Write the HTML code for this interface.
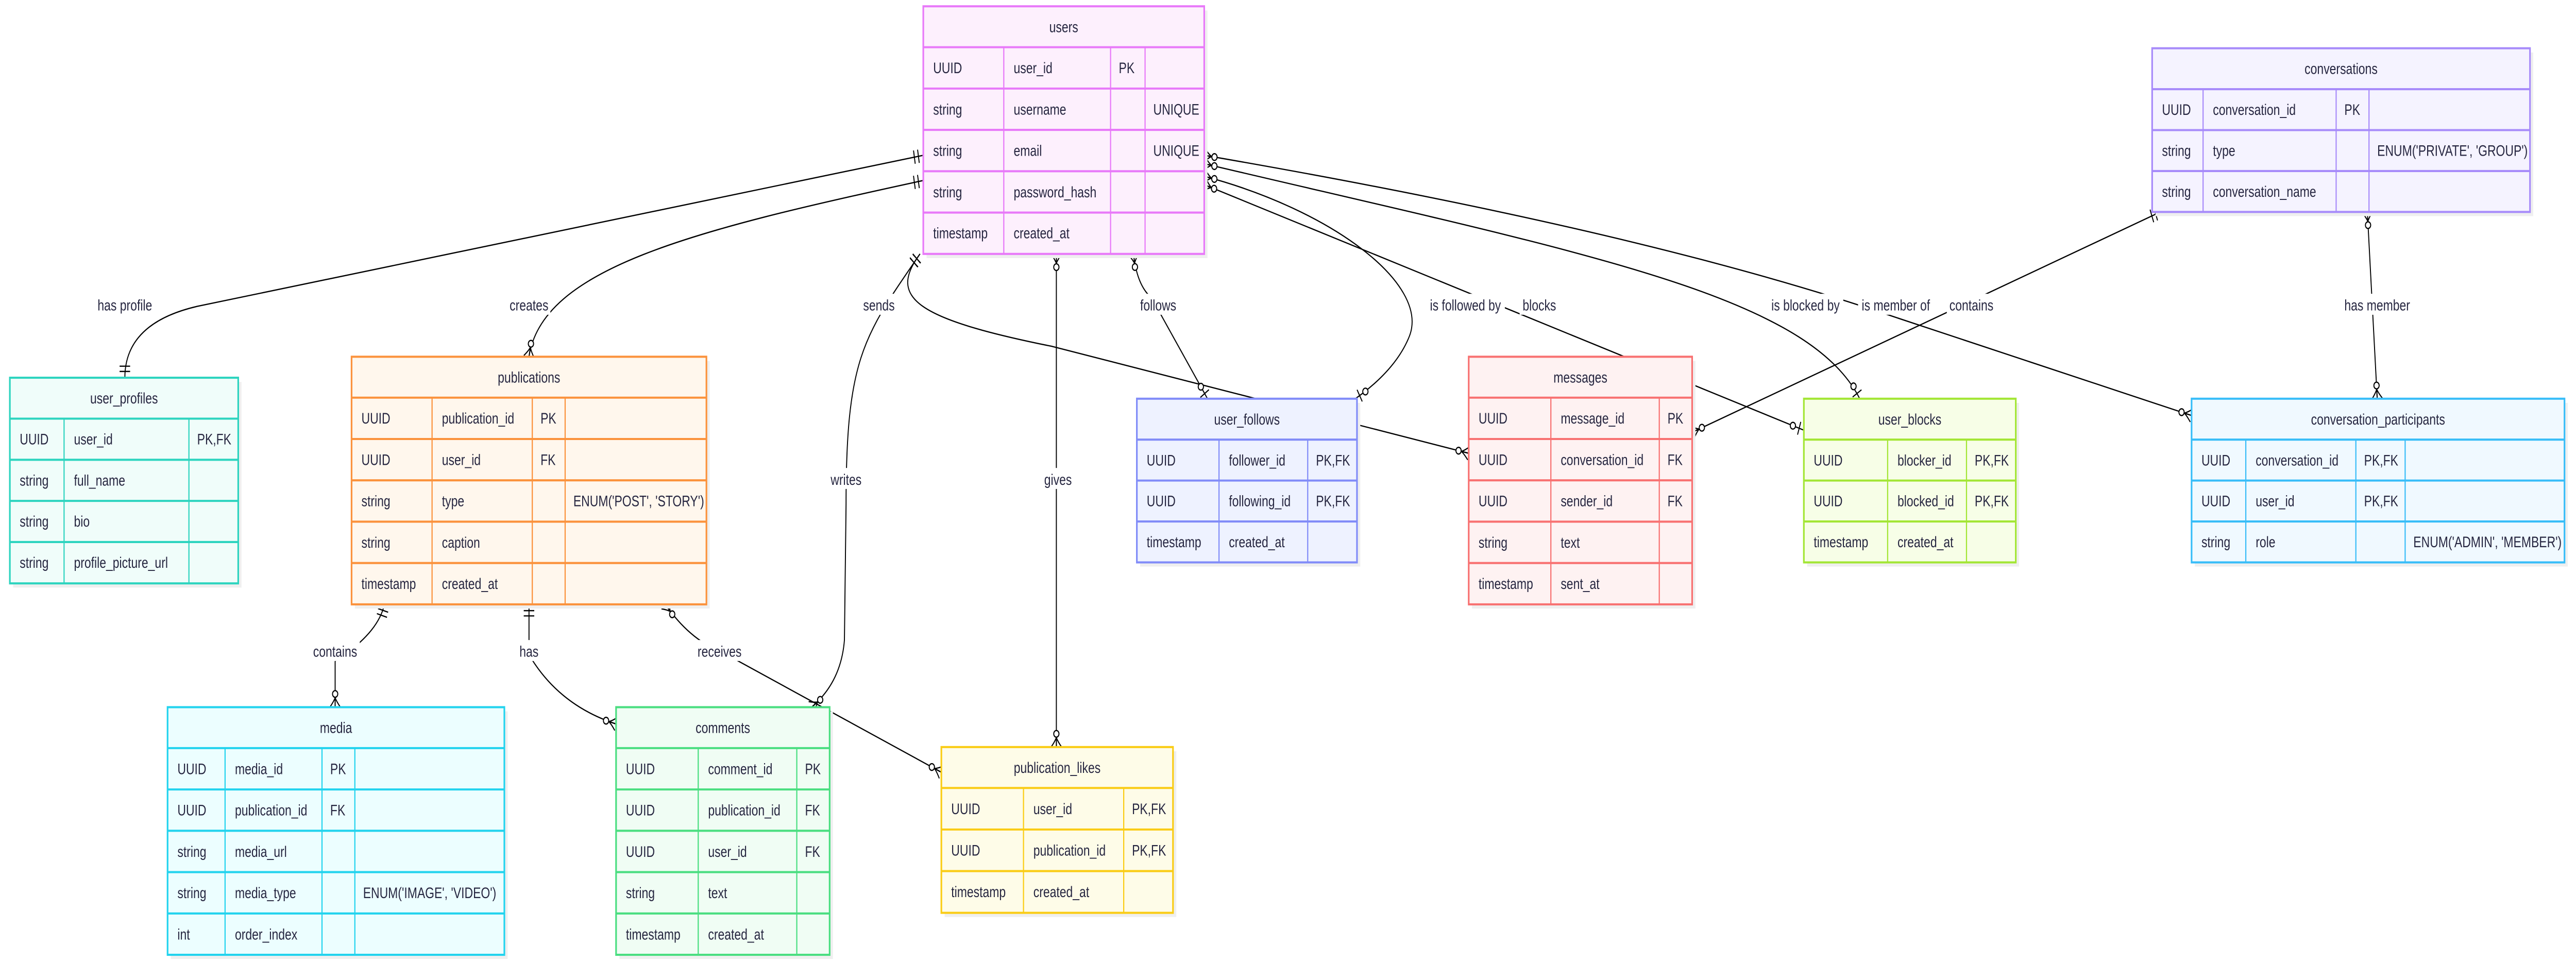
<!DOCTYPE html>
<html><head><meta charset="utf-8"><style>
html,body{margin:0;padding:0;background:#fff;overflow:hidden;width:100vw;height:100vh;}
svg{display:block;position:absolute;left:0;top:0;width:100vw;height:100vh;}
text{font-family:"Liberation Sans",sans-serif;font-size:7.2px;fill:#262640;}
.h{text-anchor:middle;}
.e{fill:none;stroke:#000;stroke-width:0.6;}
.lb{fill:#fff;}
.l{text-anchor:middle;}
</style></head><body>
<svg viewBox="0 0 1568 458.43" preserveAspectRatio="none" xmlns="http://www.w3.org/2000/svg">
<defs>
<marker id="one" markerUnits="userSpaceOnUse" orient="auto-start-reverse" refX="0" refY="0" markerWidth="20" markerHeight="20" viewBox="-10 -10 20 20" overflow="visible">
<path d="M-3,-3.2V3.2M-5.5,-3.2V3.2" fill="none" stroke="#000" stroke-width="0.6"/></marker>
<marker id="zo" markerUnits="userSpaceOnUse" orient="auto-start-reverse" refX="0" refY="0" markerWidth="20" markerHeight="20" viewBox="-10 -10 20 20" overflow="visible">
<path d="M-3,-3.2V3.2" fill="none" stroke="#000" stroke-width="0.6"/><circle cx="-7" cy="0" r="1.6" fill="#fff" stroke="#000" stroke-width="0.6"/></marker>
<marker id="zm" markerUnits="userSpaceOnUse" orient="auto-start-reverse" refX="0" refY="0" markerWidth="20" markerHeight="20" viewBox="-10 -10 20 20" overflow="visible">
<path d="M0,-3.2Q-2.5,-1 -4.5,0M0,3.2Q-2.5,1 -4.5,0M0,0H-4.5" fill="none" stroke="#000" stroke-width="0.6"/><circle cx="-6.3" cy="0" r="1.6" fill="#fff" stroke="#000" stroke-width="0.6"/></marker>
</defs>

<!-- edges -->
<path class="e" d="M562,74 L120,146 Q76,154 76,180" marker-start="url(#one)" marker-end="url(#one)"/>
<path class="e" d="M562,86 C420,110 330,128 322,170" marker-start="url(#one)" marker-end="url(#zm)"/>
<path class="e" d="M560,121 C540,142 558,152 640,165 L894,216" marker-start="url(#one)" marker-end="url(#zm)"/>
<path class="e" d="M560,121 C526,160 515,170 515,240 L514,305 Q512,325 494,337" marker-start="url(#one)" marker-end="url(#zm)"/>
<path class="e" d="M643,121 L643,356" marker-start="url(#zm)" marker-end="url(#zm)"/>
<path class="e" d="M690,121 Q692,136 701,142 L735,190" marker-start="url(#zm)" marker-end="url(#zo)"/>
<path class="e" d="M733,84 C810,100 870,135 858,160 Q850,176 825,190" marker-start="url(#zm)" marker-end="url(#zo)"/>
<path class="e" d="M733,88 L1098,205" marker-start="url(#zm)" marker-end="url(#zo)"/>
<path class="e" d="M733,78 C960,120 1100,140 1132,190" marker-start="url(#zm)" marker-end="url(#zo)"/>
<path class="e" d="M733,74 Q1000,110 1153,151 L1334,198" marker-start="url(#zm)" marker-end="url(#zm)"/>
<path class="e" d="M1315,101 L1030,206" marker-start="url(#one)" marker-end="url(#zm)"/>
<path class="e" d="M1441,101 L1447,190" marker-start="url(#zm)" marker-end="url(#zm)"/>
<path class="e" d="M234,288 Q230,302 204,315 L204,337" marker-start="url(#one)" marker-end="url(#zm)"/>
<path class="e" d="M322,288 L322,312 Q340,336 375,345" marker-start="url(#one)" marker-end="url(#zm)"/>
<path class="e" d="M405,288 Q420,305 440,311 L573,368" marker-start="url(#zm)" marker-end="url(#zm)"/>

<!-- edge labels -->
<rect class="lb" x="57" y="140" width="38" height="10"/><text class="l" x="76" y="148">has profile</text>
<rect class="lb" x="309" y="140" width="26" height="10"/><text class="l" x="322" y="148">creates</text>
<rect class="lb" x="524" y="140" width="22" height="10"/><text class="l" x="535" y="148">sends</text>
<rect class="lb" x="693" y="140" width="24" height="10"/><text class="l" x="705" y="148">follows</text>
<rect class="lb" x="868" y="140" width="48" height="10"/><text class="l" x="892" y="148">is followed by</text>
<rect class="lb" x="925" y="140" width="24" height="10"/><text class="l" x="937" y="148">blocks</text>
<rect class="lb" x="1076" y="140" width="46" height="10"/><text class="l" x="1099" y="148">is blocked by</text>
<rect class="lb" x="1131" y="140" width="46" height="10"/><text class="l" x="1154" y="148">is member of</text>
<rect class="lb" x="1185" y="140" width="30" height="10"/><text class="l" x="1200" y="148">contains</text>
<rect class="lb" x="1426" y="140" width="42" height="10"/><text class="l" x="1447" y="148">has member</text>
<rect class="lb" x="504" y="223" width="22" height="10"/><text class="l" x="515" y="231">writes</text>
<rect class="lb" x="634" y="223" width="20" height="10"/><text class="l" x="644" y="231">gives</text>
<rect class="lb" x="189" y="305" width="30" height="10"/><text class="l" x="204" y="313">contains</text>
<rect class="lb" x="315" y="305" width="14" height="10"/><text class="l" x="322" y="313">has</text>
<rect class="lb" x="423" y="305" width="30" height="10"/><text class="l" x="438" y="313">receives</text>

<!-- users -->
<g>
<rect x="564" y="5" width="171" height="118" fill="#efefef"/>
<rect x="562" y="3" width="171" height="118" fill="#fdf0fd" stroke="#e879f9" stroke-width="1"/>
<path d="M562,22.5H733M562,42.2H733M562,61.9H733M562,81.6H733M562,101.3H733" stroke="#e879f9" stroke-width="1"/>
<path d="M611,22.5V121M676,22.5V121M697,22.5V121" stroke="#e879f9" stroke-width="0.7"/>
<text class="h" x="647.5" y="15.3">users</text>
<text x="568" y="34.9">UUID</text><text x="617" y="34.9">user_id</text><text x="681" y="34.9">PK</text>
<text x="568" y="54.6">string</text><text x="617" y="54.6">username</text><text x="702" y="54.6">UNIQUE</text>
<text x="568" y="74.3">string</text><text x="617" y="74.3">email</text><text x="702" y="74.3">UNIQUE</text>
<text x="568" y="94">string</text><text x="617" y="94">password_hash</text>
<text x="568" y="113.6">timestamp</text><text x="617" y="113.6">created_at</text>
</g>

<!-- user_profiles -->
<g>
<rect x="8" y="182" width="139" height="98" fill="#efefef"/>
<rect x="6" y="180" width="139" height="98" fill="#f0fdfa" stroke="#2dd4bf" stroke-width="1"/>
<path d="M6,199.5H145M6,219.1H145M6,238.7H145M6,258.3H145" stroke="#2dd4bf" stroke-width="1"/>
<path d="M39,199.5V278M115,199.5V278" stroke="#2dd4bf" stroke-width="0.7"/>
<text class="h" x="75.5" y="192.3">user_profiles</text>
<text x="12" y="211.8">UUID</text><text x="45" y="211.8">user_id</text><text x="120" y="211.8">PK,FK</text>
<text x="12" y="231.4">string</text><text x="45" y="231.4">full_name</text>
<text x="12" y="251">string</text><text x="45" y="251">bio</text>
<text x="12" y="270.6">string</text><text x="45" y="270.6">profile_picture_url</text>
</g>

<!-- publications -->
<g>
<rect x="216" y="172" width="216" height="118" fill="#efefef"/>
<rect x="214" y="170" width="216" height="118" fill="#fff7ed" stroke="#fb923c" stroke-width="1"/>
<path d="M214,189.5H430M214,209.2H430M214,228.9H430M214,248.6H430M214,268.3H430" stroke="#fb923c" stroke-width="1"/>
<path d="M263,189.5V288M324,189.5V288M344,189.5V288" stroke="#fb923c" stroke-width="0.7"/>
<text class="h" x="322" y="182.3">publications</text>
<text x="220" y="201.9">UUID</text><text x="269" y="201.9">publication_id</text><text x="329" y="201.9">PK</text>
<text x="220" y="221.6">UUID</text><text x="269" y="221.6">user_id</text><text x="329" y="221.6">FK</text>
<text x="220" y="241.3">string</text><text x="269" y="241.3">type</text><text x="349" y="241.3">ENUM('POST', 'STORY')</text>
<text x="220" y="261">string</text><text x="269" y="261">caption</text>
<text x="220" y="280.7">timestamp</text><text x="269" y="280.7">created_at</text>
</g>

<!-- media -->
<g>
<rect x="104" y="339" width="205" height="118" fill="#efefef"/>
<rect x="102" y="337" width="205" height="118" fill="#ecfeff" stroke="#22d3ee" stroke-width="1"/>
<path d="M102,356.5H307M102,376.2H307M102,395.9H307M102,415.6H307M102,435.3H307" stroke="#22d3ee" stroke-width="1"/>
<path d="M137,356.5V455M196,356.5V455M216,356.5V455" stroke="#22d3ee" stroke-width="0.7"/>
<text class="h" x="204.5" y="349.3">media</text>
<text x="108" y="368.9">UUID</text><text x="143" y="368.9">media_id</text><text x="201" y="368.9">PK</text>
<text x="108" y="388.6">UUID</text><text x="143" y="388.6">publication_id</text><text x="201" y="388.6">FK</text>
<text x="108" y="408.3">string</text><text x="143" y="408.3">media_url</text>
<text x="108" y="428">string</text><text x="143" y="428">media_type</text><text x="221" y="428">ENUM('IMAGE', 'VIDEO')</text>
<text x="108" y="447.7">int</text><text x="143" y="447.7">order_index</text>
</g>

<!-- comments -->
<g>
<rect x="377" y="339" width="130" height="118" fill="#efefef"/>
<rect x="375" y="337" width="130" height="118" fill="#f0fdf4" stroke="#4ade80" stroke-width="1"/>
<path d="M375,356.5H505M375,376.2H505M375,395.9H505M375,415.6H505M375,435.3H505" stroke="#4ade80" stroke-width="1"/>
<path d="M425,356.5V455M485,356.5V455" stroke="#4ade80" stroke-width="0.7"/>
<text class="h" x="440" y="349.3">comments</text>
<text x="381" y="368.9">UUID</text><text x="431" y="368.9">comment_id</text><text x="490" y="368.9">PK</text>
<text x="381" y="388.6">UUID</text><text x="431" y="388.6">publication_id</text><text x="490" y="388.6">FK</text>
<text x="381" y="408.3">UUID</text><text x="431" y="408.3">user_id</text><text x="490" y="408.3">FK</text>
<text x="381" y="428">string</text><text x="431" y="428">text</text>
<text x="381" y="447.7">timestamp</text><text x="431" y="447.7">created_at</text>
</g>

<!-- publication_likes -->
<g>
<rect x="575" y="358" width="141" height="79" fill="#efefef"/>
<rect x="573" y="356" width="141" height="79" fill="#fefce8" stroke="#facc15" stroke-width="1"/>
<path d="M573,375.5H714M573,395.3H714M573,415.1H714" stroke="#facc15" stroke-width="1"/>
<path d="M623,375.5V435M684,375.5V435" stroke="#facc15" stroke-width="0.7"/>
<text class="h" x="643.5" y="368.3">publication_likes</text>
<text x="579" y="387.9">UUID</text><text x="629" y="387.9">user_id</text><text x="689" y="387.9">PK,FK</text>
<text x="579" y="407.7">UUID</text><text x="629" y="407.7">publication_id</text><text x="689" y="407.7">PK,FK</text>
<text x="579" y="427.5">timestamp</text><text x="629" y="427.5">created_at</text>
</g>

<!-- user_follows -->
<g>
<rect x="694" y="192" width="134" height="78" fill="#efefef"/>
<rect x="692" y="190" width="134" height="78" fill="#eef2ff" stroke="#818cf8" stroke-width="1"/>
<path d="M692,209.5H826M692,229H826M692,248.5H826" stroke="#818cf8" stroke-width="1"/>
<path d="M742,209.5V268M796,209.5V268" stroke="#818cf8" stroke-width="0.7"/>
<text class="h" x="759" y="202.3">user_follows</text>
<text x="698" y="221.8">UUID</text><text x="748" y="221.8">follower_id</text><text x="801" y="221.8">PK,FK</text>
<text x="698" y="241.3">UUID</text><text x="748" y="241.3">following_id</text><text x="801" y="241.3">PK,FK</text>
<text x="698" y="260.8">timestamp</text><text x="748" y="260.8">created_at</text>
</g>

<!-- messages -->
<g>
<rect x="896" y="172" width="136" height="118" fill="#efefef"/>
<rect x="894" y="170" width="136" height="118" fill="#fef2f2" stroke="#f87171" stroke-width="1"/>
<path d="M894,189.5H1030M894,209.2H1030M894,228.9H1030M894,248.6H1030M894,268.3H1030" stroke="#f87171" stroke-width="1"/>
<path d="M944,189.5V288M1010,189.5V288" stroke="#f87171" stroke-width="0.7"/>
<text class="h" x="962" y="182.3">messages</text>
<text x="900" y="201.9">UUID</text><text x="950" y="201.9">message_id</text><text x="1015" y="201.9">PK</text>
<text x="900" y="221.6">UUID</text><text x="950" y="221.6">conversation_id</text><text x="1015" y="221.6">FK</text>
<text x="900" y="241.3">UUID</text><text x="950" y="241.3">sender_id</text><text x="1015" y="241.3">FK</text>
<text x="900" y="261">string</text><text x="950" y="261">text</text>
<text x="900" y="280.7">timestamp</text><text x="950" y="280.7">sent_at</text>
</g>

<!-- user_blocks -->
<g>
<rect x="1100" y="192" width="129" height="78" fill="#efefef"/>
<rect x="1098" y="190" width="129" height="78" fill="#f7fee7" stroke="#a3e635" stroke-width="1"/>
<path d="M1098,209.5H1227M1098,229H1227M1098,248.5H1227" stroke="#a3e635" stroke-width="1"/>
<path d="M1149,209.5V268M1197,209.5V268" stroke="#a3e635" stroke-width="0.7"/>
<text class="h" x="1162.5" y="202.3">user_blocks</text>
<text x="1104" y="221.8">UUID</text><text x="1155" y="221.8">blocker_id</text><text x="1202" y="221.8">PK,FK</text>
<text x="1104" y="241.3">UUID</text><text x="1155" y="241.3">blocked_id</text><text x="1202" y="241.3">PK,FK</text>
<text x="1104" y="260.8">timestamp</text><text x="1155" y="260.8">created_at</text>
</g>

<!-- conversations -->
<g>
<rect x="1312" y="25" width="230" height="78" fill="#efefef"/>
<rect x="1310" y="23" width="230" height="78" fill="#f5f3ff" stroke="#a78bfa" stroke-width="1"/>
<path d="M1310,42.5H1540M1310,62H1540M1310,81.5H1540" stroke="#a78bfa" stroke-width="1"/>
<path d="M1341,42.5V101M1422,42.5V101M1442,42.5V101" stroke="#a78bfa" stroke-width="0.7"/>
<text class="h" x="1425" y="35.3">conversations</text>
<text x="1316" y="54.8">UUID</text><text x="1347" y="54.8">conversation_id</text><text x="1427" y="54.8">PK</text>
<text x="1316" y="74.3">string</text><text x="1347" y="74.3">type</text><text x="1447" y="74.3">ENUM('PRIVATE', 'GROUP')</text>
<text x="1316" y="93.8">string</text><text x="1347" y="93.8">conversation_name</text>
</g>

<!-- conversation_participants -->
<g>
<rect x="1336" y="192" width="227" height="78" fill="#efefef"/>
<rect x="1334" y="190" width="227" height="78" fill="#f0f9ff" stroke="#38bdf8" stroke-width="1"/>
<path d="M1334,209.5H1561M1334,229H1561M1334,248.5H1561" stroke="#38bdf8" stroke-width="1"/>
<path d="M1367,209.5V268M1434,209.5V268M1464,209.5V268" stroke="#38bdf8" stroke-width="0.7"/>
<text class="h" x="1447.5" y="202.3">conversation_participants</text>
<text x="1340" y="221.8">UUID</text><text x="1373" y="221.8">conversation_id</text><text x="1439" y="221.8">PK,FK</text>
<text x="1340" y="241.3">UUID</text><text x="1373" y="241.3">user_id</text><text x="1439" y="241.3">PK,FK</text>
<text x="1340" y="260.8">string</text><text x="1373" y="260.8">role</text><text x="1469" y="260.8">ENUM('ADMIN', 'MEMBER')</text>
</g>
</svg>
</body></html>
